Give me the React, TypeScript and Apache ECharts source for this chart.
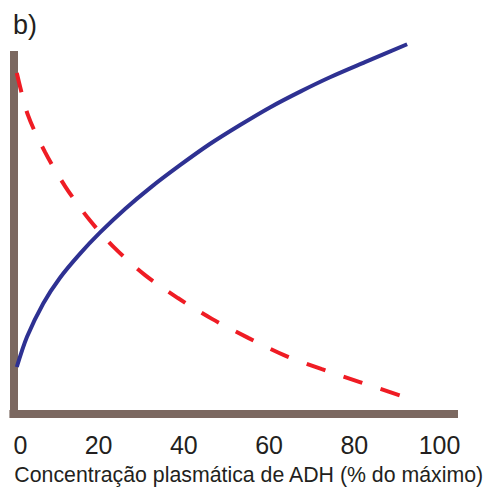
import React, { useEffect, useRef } from "react";
import * as echarts from "echarts";

// x: % of max ADH, y: arbitrary relative level
const blueX = [0.8, 3.2, 7.0, 10.9, 15.6, 20.3, 26.2, 32.1, 39.1, 46.1, 53.2, 60.2, 67.3, 74.3, 82.5, 92.4];
const blueY = [13.1, 21.5, 30.8, 37.9, 44.6, 50.5, 57.1, 63.0, 69.3, 75.2, 80.5, 85.4, 89.8, 93.8, 98.0, 103.0];

const redX = [0.8, 3.4, 7.4, 12.1, 17.7, 23.8, 30.9, 38.6, 46.6, 55.1, 63.5, 72.4, 81.3, 92.4];
const redY = [95.0, 83.3, 73.0, 63.5, 54.3, 46.2, 38.7, 32.3, 26.5, 21.2, 16.4, 12.5, 8.9, 4.5];

const xTicks = [0, 20, 40, 60, 80, 100];
const xLabel = "Concentração plasmática de ADH (% do máximo)";
const panelLabel = "b)";

const FONT = "Liberation Sans, Arial, sans-serif";
const AXIS = "#7b6860";
const TEXT = "#231f20";

export default function App() {
  const ref = useRef<HTMLDivElement>(null);
  useEffect(() => {
    if (!ref.current) return;
    const chart = echarts.init(ref.current, null, { renderer: "svg" });
    chart.setOption({
      animation: false,
      backgroundColor: "#ffffff",
      title: {
        text: panelLabel,
        left: 13,
        top: 11,
        padding: 0,
        textStyle: { fontFamily: FONT, fontSize: 27, fontWeight: "normal", color: TEXT },
      },
      grid: { left: 13.4, right: 31, top: 55, bottom: 74, outerBoundsMode: "none", containLabel: false },
      xAxis: {
        type: "value",
        min: 0,
        max: 103.4,
        name: xLabel,
        nameLocation: "middle",
        nameGap: 50,
        nameTextStyle: { fontFamily: FONT, fontSize: 21.3, color: TEXT, padding: [0, 0, 0, 30] },
        axisLine: { show: true, onZero: false, lineStyle: { color: AXIS, width: 8, cap: "square" } },
        axisTick: { show: false },
        splitLine: { show: false },
        axisLabel: {
          customValues: xTicks,
          alignMinLabel: "left",
          margin: 18,
          fontFamily: FONT,
          fontSize: 25,
          color: TEXT,
        },
      },
      yAxis: {
        type: "value",
        min: 0,
        max: 100,
        axisLine: { show: true, onZero: false, lineStyle: { color: AXIS, width: 8, cap: "square" } },
        axisTick: { show: false },
        axisLabel: { show: false },
        splitLine: { show: false },
      },
      series: [
        {
          type: "line",
          data: blueX.map((x, i) => [x, blueY[i]]),
          smooth: 0.3,
          showSymbol: false,
          symbol: "none",
          clip: false,
          lineStyle: { color: "#2e3192", width: 4 },
        },
        {
          type: "line",
          data: redX.map((x, i) => [x, redY[i]]),
          smooth: 0.3,
          showSymbol: false,
          symbol: "none",
          clip: false,
          lineStyle: { color: "#ef1c24", width: 4, type: [20, 19] },
        },
      ],
    });
    return () => chart.dispose();
  }, []);
  return (
    <div
      ref={ref}
      style={{ position: "fixed", left: 0, top: 0, width: 485, height: 488 }}
    />
  );
}
